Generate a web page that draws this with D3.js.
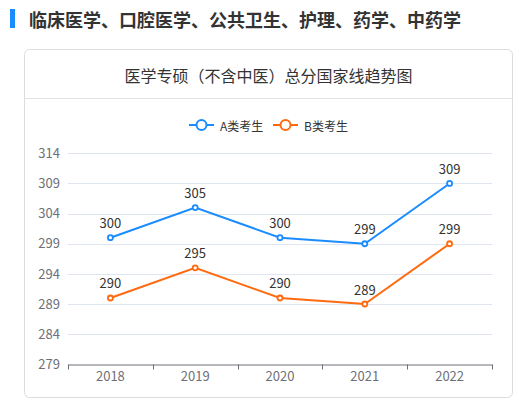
<!DOCTYPE html>
<html>
<head>
<meta charset="utf-8">
<script src="https://cdn.jsdelivr.net/npm/d3@7"></script>
<style>
  body { margin: 0; background: #fff; font-family: "Noto Sans CJK SC", "Noto Sans", sans-serif; }
</style>
</head>
<body>
<div id="wrapper"></div>
<script>
// Chart data
const years = ["2018", "2019", "2020", "2021", "2022"]
const seriesA = [300, 305, 300, 299, 309]
const seriesB = [290, 295, 290, 289, 299]
const seriesNames = ["A类考生", "B类考生"]
const yTicks = [279, 284, 289, 294, 299, 304, 309, 314]
const pageTitle = "临床医学、口腔医学、公共卫生、护理、药学、中药学"
const chartTitle = "医学专硕（不含中医）总分国家线趋势图"

const colors = ["#1a8cff", "#ff6a0f"]

const width = 520
const height = 412

const svg = d3.select("#wrapper")
  .append("svg")
  .attr("width", width)
  .attr("height", height)
  .style("font-family", `"Noto Sans CJK SC", "Noto Sans", sans-serif`)

// page header
svg.append("rect")
  .attr("x", 10).attr("y", 9)
  .attr("width", 5).attr("height", 19)
  .attr("fill", "#1a8cff")

svg.append("text")
  .attr("x", 29).attr("y", 19)
  .attr("dominant-baseline", "central")
  .attr("fill", "#333")
  .style("font-size", "18px")
  .style("font-weight", "bold")
  .text(pageTitle)

// card
const card = { x: 24.5, y: 49.5, w: 488, h: 348 }
svg.append("rect")
  .attr("x", card.x).attr("y", card.y)
  .attr("width", card.w).attr("height", card.h)
  .attr("rx", 5)
  .attr("fill", "#fff")
  .attr("stroke", "#dcdcdc")

svg.append("line")
  .attr("x1", card.x).attr("x2", card.x + card.w)
  .attr("y1", 98.5).attr("y2", 98.5)
  .attr("stroke", "#e3e3e3")

svg.append("text")
  .attr("x", card.x + card.w / 2).attr("y", 75)
  .attr("text-anchor", "middle")
  .attr("dominant-baseline", "central")
  .attr("fill", "#333")
  .style("font-size", "16px")
  .text(chartTitle)

// scales
const margin = { left: 68, right: 492, top: 153.3, bottom: 364.3 }

const xScale = d3.scaleBand()
  .domain(years)
  .range([margin.left, margin.right])

const yScale = d3.scaleLinear()
  .domain([279, 314])
  .range([margin.bottom, margin.top])

// grid
svg.append("g")
  .selectAll("line")
  .data(yTicks.slice(1))
  .join("line")
  .attr("x1", margin.left).attr("x2", margin.right)
  .attr("y1", d => Math.round(yScale(d)) + 0.5)
  .attr("y2", d => Math.round(yScale(d)) + 0.5)
  .attr("stroke", "#e0e6f1")

// y axis labels
const yAxis = svg.append("g")
  .attr("transform", `translate(${margin.left},0)`)
  .call(d3.axisLeft(yScale).tickValues(yTicks).tickSize(0).tickPadding(8))
yAxis.select(".domain").remove()
yAxis.selectAll("text")
  .attr("fill", "#6e7079")
  .style("font-size", "13px")
  .style("font-family", `"Noto Sans CJK SC", sans-serif`)

// x axis
const xAxis = svg.append("g")
  .attr("transform", `translate(0,${Math.round(margin.bottom) + 0.5})`)
  .call(d3.axisBottom(xScale).tickSizeOuter(0).tickSizeInner(0).tickPadding(7))
xAxis.select(".domain").attr("stroke", "#6e7079")
xAxis.selectAll(".tick line").remove()
xAxis.selectAll("text")
  .attr("fill", "#6e7079")
  .style("font-size", "13px")
  .style("font-family", `"Noto Sans CJK SC", sans-serif`)

// ticks on band edges
const edges = years.map(d => xScale(d)).concat([xScale.range()[1]])
xAxis.append("g")
  .selectAll("line")
  .data(edges)
  .join("line")
  .attr("x1", d => Math.round(d) + 0.5)
  .attr("x2", d => Math.round(d) + 0.5)
  .attr("y1", 0).attr("y2", 5)
  .attr("stroke", "#6e7079")

// lines
const xCenter = d => xScale(d) + xScale.bandwidth() / 2
const lineGen = d3.line()
  .x((d, i) => xCenter(years[i]))
  .y(d => yScale(d))

const allSeries = [seriesA, seriesB]

allSeries.forEach((values, si) => {
  const g = svg.append("g")
  g.append("path")
    .datum(values)
    .attr("d", lineGen)
    .attr("fill", "none")
    .attr("stroke", colors[si])
    .attr("stroke-width", 2)

  g.selectAll("circle")
    .data(values)
    .join("circle")
    .attr("cx", (d, i) => xCenter(years[i]))
    .attr("cy", d => yScale(d))
    .attr("r", 2.5)
    .attr("fill", "#fff")
    .attr("stroke", colors[si])
    .attr("stroke-width", 1.8)

  g.selectAll("text")
    .data(values)
    .join("text")
    .attr("x", (d, i) => xCenter(years[i]))
    .attr("y", d => yScale(d) - 15)
    .attr("text-anchor", "middle")
    .attr("dominant-baseline", "central")
    .attr("fill", "#333")
    .style("font-size", "13px")
    .text(d => d)
})

// legend
const legendItems = [{ x: 189 }, { x: 273 }]
legendItems.forEach((item, i) => {
  const lg = svg.append("g").attr("transform", `translate(${item.x},125)`)
  lg.append("line")
    .attr("x1", 0).attr("x2", 25)
    .attr("stroke", colors[i])
    .attr("stroke-width", 2)
  lg.append("circle")
    .attr("cx", 12.5).attr("cy", 0)
    .attr("r", 5)
    .attr("fill", "#fff")
    .attr("stroke", colors[i])
    .attr("stroke-width", 2)
  lg.append("text")
    .attr("x", 31).attr("y", 0)
    .attr("dominant-baseline", "central")
    .attr("fill", "#333")
    .style("font-size", "12px")
    .text(seriesNames[i])
})
</script>
</body>
</html>
